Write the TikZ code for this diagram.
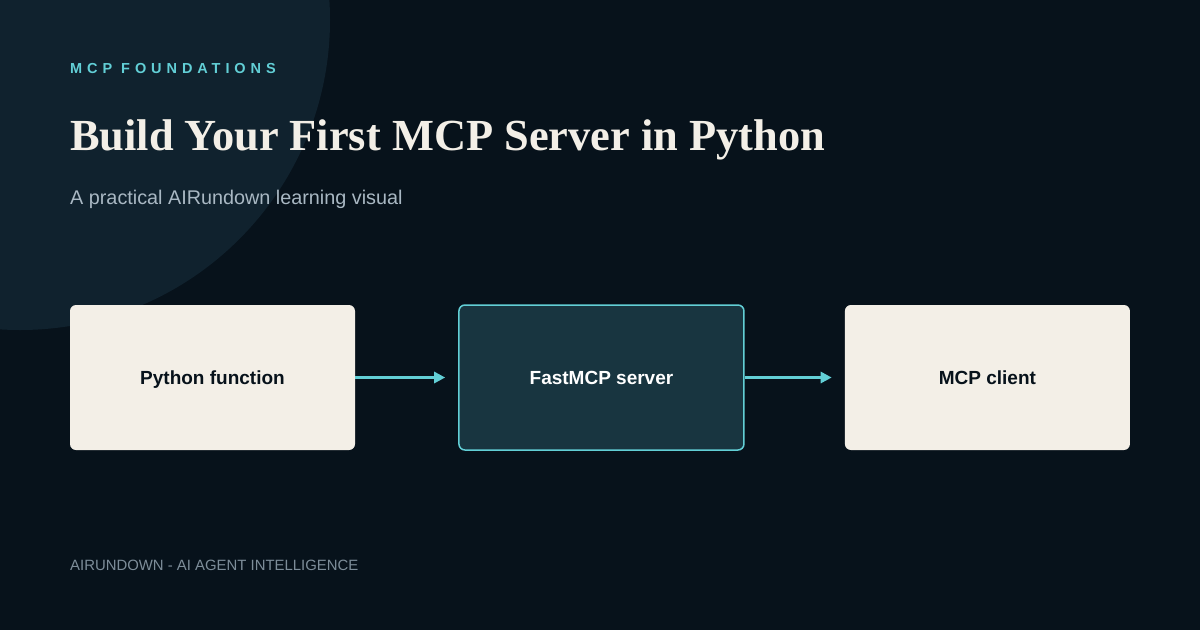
\documentclass[tikz,border=0pt]{standalone}
\usepackage{fontspec}
\setmainfont{Liberation Sans}
\newfontfamily\titlefont{Liberation Serif}
\usetikzlibrary{arrows.meta,positioning}
\definecolor{bgdark}{HTML}{07121B}
\definecolor{bgcircle}{HTML}{10222E}
\definecolor{paper}{HTML}{F3EFE7}
\definecolor{serverfill}{HTML}{183540}
\definecolor{accent}{HTML}{62CFD6}
\definecolor{subgrey}{HTML}{A9B8C3}
\definecolor{footgrey}{HTML}{7D8D99}
\begin{document}
\begin{tikzpicture}
[x=1pt, y=-1pt,
% STYLES
% stage boxes of the pipeline
stage/.style={rectangle, rounded corners=6pt, minimum width=285pt, minimum height=145pt, font=\fontsize{19}{22}\selectfont\bfseries, inner sep=0pt, text height=13.7pt, text depth=0pt},
plain/.style={stage, fill=paper, text=bgdark},
server/.style={stage, fill=serverfill, draw=accent, line width=1.5pt, text=white},
% arrows between the stages
link/.style={-{Triangle[length=11pt,width=11pt]}, accent, line width=3pt}]

% background
\fill[bgdark] (0,0) rectangle (1200,630);
\useasboundingbox (0,0) rectangle (1200,630);
\begin{scope}
\clip (0,0) rectangle (1200,630);
\fill[bgcircle] (20,20) circle[radius=310];
\end{scope}

% texts
\node[anchor=west, text=accent, font=\fontsize{14.5}{16}\selectfont\bfseries\addfontfeatures{LetterSpace=34}, inner sep=0pt] (kicker) at (70,69) {MCP FOUNDATIONS};
\node[anchor=west, text=paper, font=\fontsize{44.4}{48}\selectfont\titlefont\bfseries, inner sep=0pt] (title) at (70,140) {Build Your First MCP Server in Python};
\node[anchor=west, text=subgrey, font=\fontsize{19.8}{22}\selectfont, inner sep=0pt] (subtitle) at (70,199) {A practical AIRundown learning visual};
\node[anchor=west, text=footgrey, font=\fontsize{14.9}{16}\selectfont, inner sep=0pt] (footer) at (70,565) {AIRUNDOWN - AI AGENT INTELLIGENCE};

% stages
\node[plain] (function) at (212.5,377.5) {Python function};
\node[server, right=103pt of function] (fastmcp) {FastMCP server};
\node[plain, right=100pt of fastmcp] (client) {MCP client};

% links
\draw[link] (function.east) -- ([xshift=-13pt]fastmcp.west);
\draw[link] (fastmcp.east) -- ([xshift=-13pt]client.west);
\end{tikzpicture}
\end{document}
